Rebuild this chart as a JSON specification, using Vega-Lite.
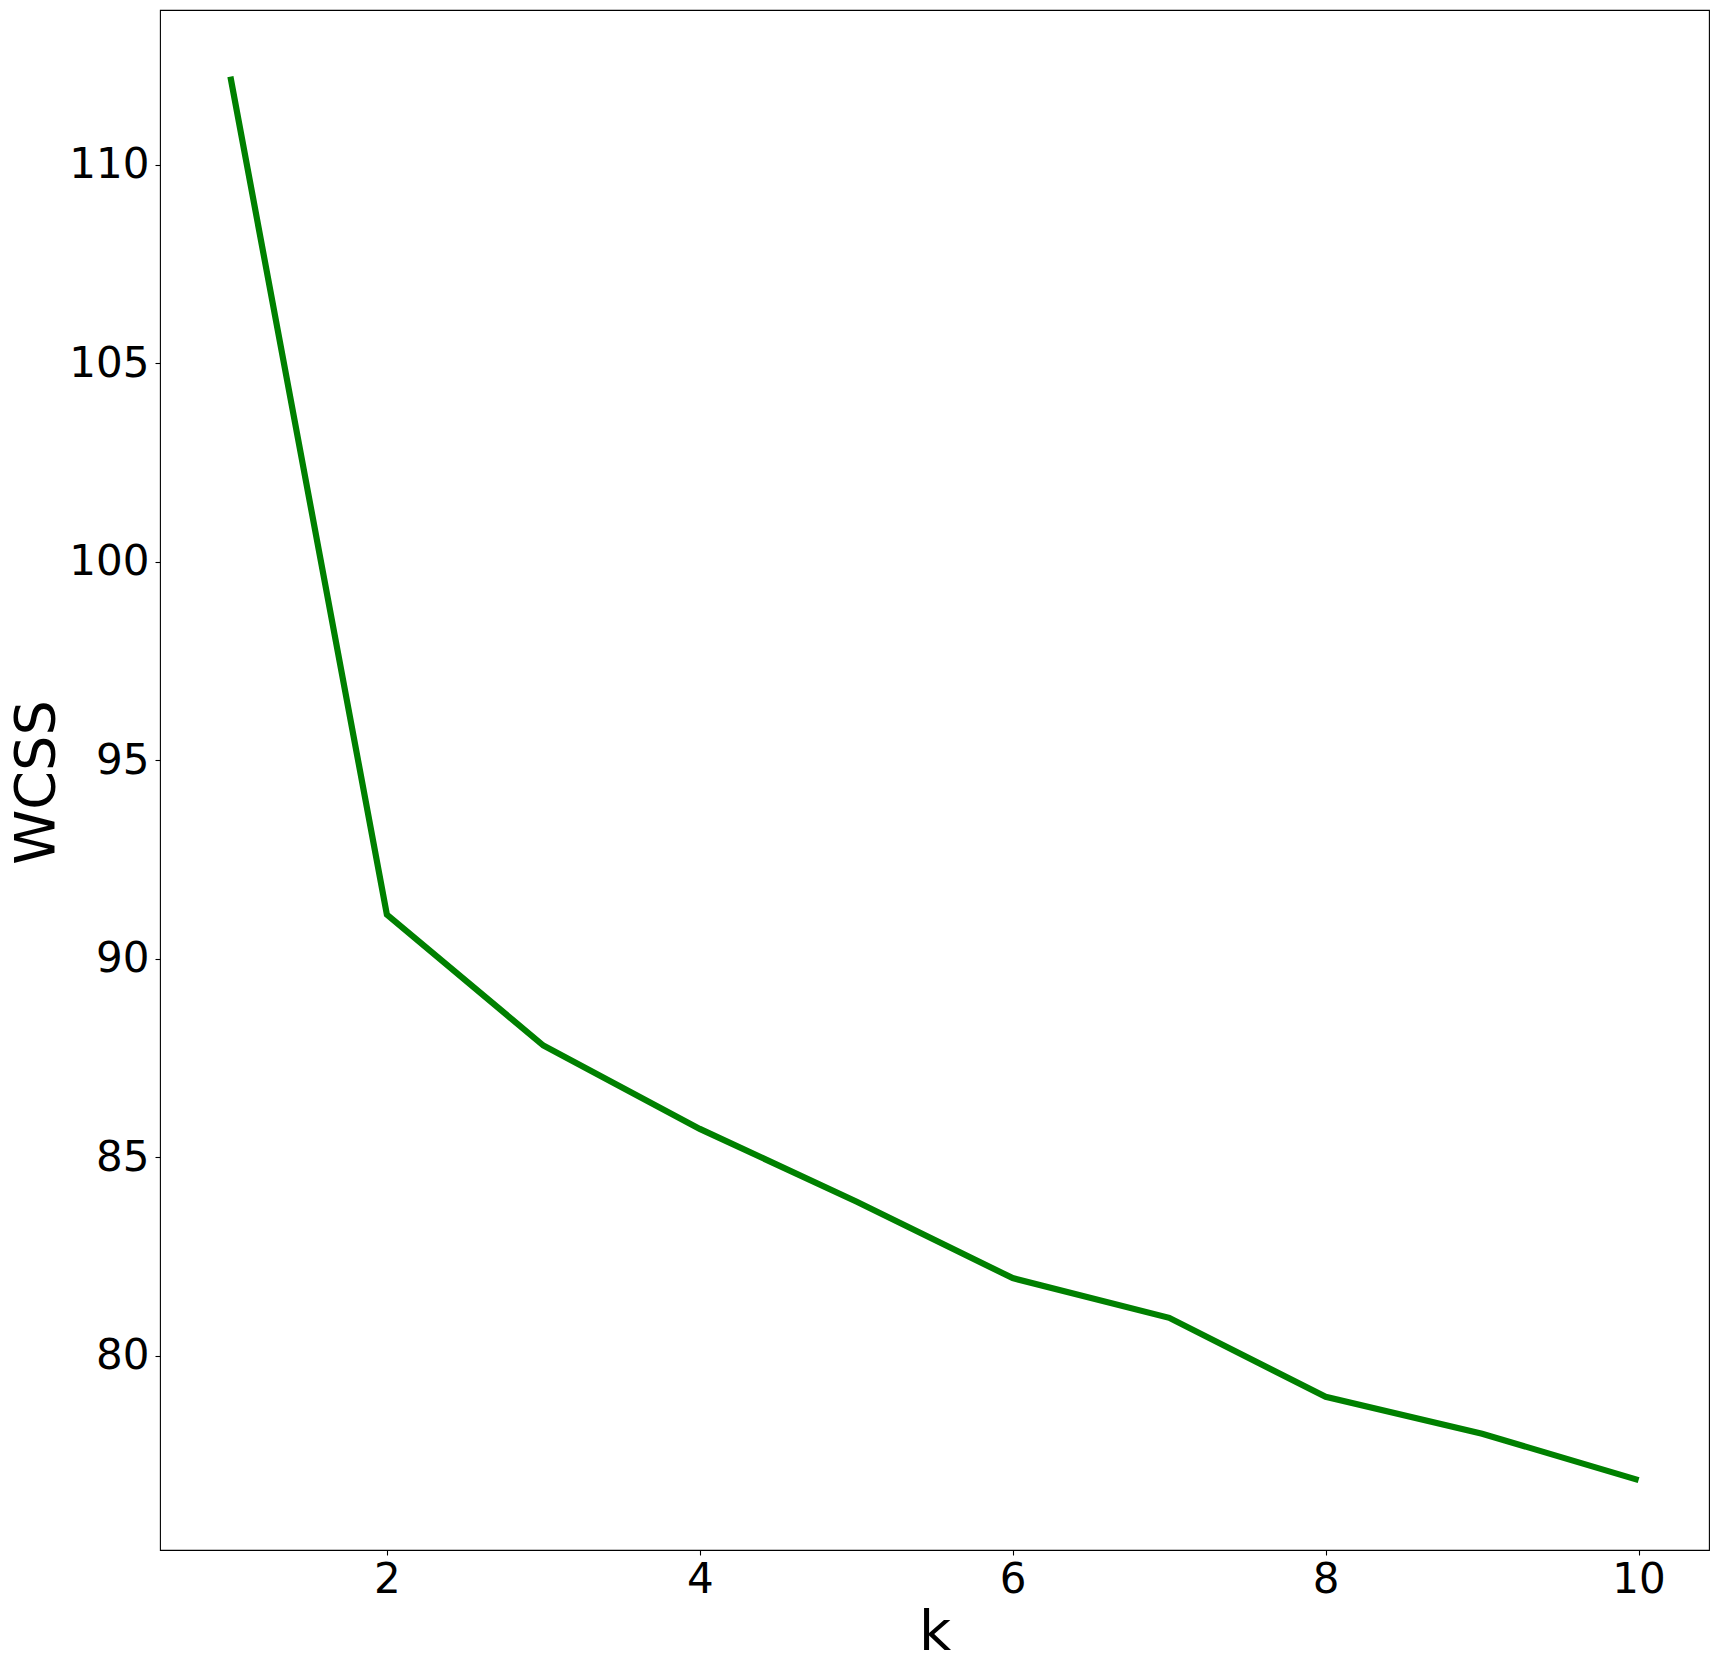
{
  "$schema": "https://vega.github.io/schema/vega-lite/v6.json",
  "autosize": {"type": "none"},
  "width": 1549,
  "height": 1540,
  "padding": {"left": 160, "top": 10, "right": 9, "bottom": 121},
  "background": "white",
  "config": {
    "view": {"stroke": "black", "strokeWidth": 1.1},
    "font": "DejaVu Sans"
  },
  "data": {
    "values": [
      {"k": 1, "wcss": 112.22},
      {"k": 2, "wcss": 91.11},
      {"k": 3, "wcss": 87.81},
      {"k": 4, "wcss": 85.71},
      {"k": 5, "wcss": 83.88},
      {"k": 6, "wcss": 81.95},
      {"k": 7, "wcss": 80.95},
      {"k": 8, "wcss": 78.96},
      {"k": 9, "wcss": 78.03},
      {"k": 10, "wcss": 76.86}
    ]
  },
  "mark": {"type": "line", "color": "#008000", "strokeWidth": 6.2, "strokeCap": "butt", "strokeJoin": "miter"},
  "encoding": {
    "x": {
      "field": "k",
      "type": "quantitative",
      "scale": {"domain": [0.55, 10.45], "nice": false, "zero": false},
      "axis": {
        "title": "k",
        "values": [2, 4, 6, 8, 10],
        "grid": false,
        "domain": false,
        "ticks": true,
        "tickSize": 5,
        "tickWidth": 1.1,
        "tickColor": "black",
        "labelFont": "DejaVu Sans",
        "labelFontSize": 42,
        "labelColor": "black",
        "labelPadding": 4,
        "labelFlush": false,
        "titleFont": "DejaVu Sans",
        "titleFontSize": 55.6,
        "titleFontWeight": "normal",
        "titleColor": "black",
        "titleX": 774.5,
        "titleY": 99,
        "titleBaseline": "alphabetic",
        "titleAnchor": "middle",
        "titleAlign": "center"
      }
    },
    "y": {
      "field": "wcss",
      "type": "quantitative",
      "scale": {"domain": [75.1, 113.9], "nice": false, "zero": false},
      "axis": {
        "title": "WCSS",
        "values": [80, 85, 90, 95, 100, 105, 110],
        "grid": false,
        "domain": false,
        "ticks": true,
        "tickSize": 5,
        "tickWidth": 1.1,
        "tickColor": "black",
        "labelFont": "DejaVu Sans",
        "labelFontSize": 42,
        "labelColor": "black",
        "labelPadding": 6,
        "labelFlush": false,
        "titleFont": "DejaVu Sans",
        "titleFontSize": 55.6,
        "titleFontWeight": "normal",
        "titleColor": "black",
        "titleX": -107,
        "titleY": 772,
        "titleAngle": -90,
        "titleBaseline": "alphabetic",
        "titleAlign": "center",
        "titleAnchor": "middle"
      }
    }
  }
}
